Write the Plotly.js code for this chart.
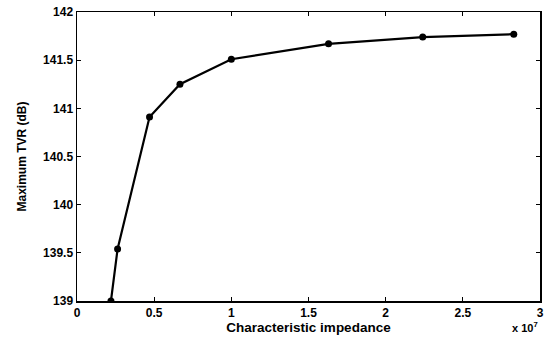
<!DOCTYPE html>
<html><head><meta charset="utf-8">
<script src="https://cdn.plot.ly/plotly-3.0.1.min.js"></script>
<style>body{margin:0;background:#fff}#c{width:547px;height:340px}</style>
</head><body><div id="c"></div>
<script>
const impedance = [0.22, 0.263, 0.47, 0.667, 1.0, 1.63, 2.24, 2.83];
const tvr = [139.0, 139.54, 140.91, 141.25, 141.51, 141.67, 141.74, 141.77];
const xTicks = [0, 0.5, 1, 1.5, 2, 2.5, 3];
const xTickText = ['0', '0.5', '1', '1.5', '2', '2.5', '3'];
const yTicks = [139, 139.5, 140, 140.5, 141, 141.5, 142];
const yTickText = ['139', '139.5', '140', '140.5', '141', '141.5', '142'];
const fnt = {family: 'Liberation Sans, Arial, sans-serif', size: 12, color: '#000', weight: 'bold'};
Plotly.newPlot('c', [{
  x: impedance, y: tvr, mode: 'lines+markers', type: 'scatter',
  line: {color: '#000', width: 2.2},
  marker: {color: '#000', size: 7}
}], {
  width: 547, height: 340,
  margin: {l: 77, r: 7, t: 12, b: 39},
  paper_bgcolor: '#fff', plot_bgcolor: '#fff',
  showlegend: false,
  font: fnt,
  xaxis: {range: [0, 3], tickvals: xTicks, ticktext: xTickText, ticks: 'inside', ticklen: 4,
    showgrid: false, zeroline: false, showline: true, mirror: 'ticks', linecolor: '#000', linewidth: 1.5,
    tickcolor: '#000', tickfont: fnt,
    title: {text: 'Characteristic impedance', font: {family: fnt.family, size: 13.5, weight: 'bold', color: '#000'}, standoff: 1}},
  yaxis: {range: [139, 142], tickvals: yTicks, ticktext: yTickText, ticks: 'inside', ticklen: 4,
    showgrid: false, zeroline: false, showline: true, mirror: 'ticks', linecolor: '#000', linewidth: 1.5,
    tickcolor: '#000', tickfont: fnt,
    title: {text: 'Maximum TVR (dB)', font: {family: fnt.family, size: 12, weight: 'bold', color: '#000'}, standoff: 14}},
  annotations: [{xref: 'paper', yref: 'paper', x: 1.0, y: 0, yshift: -17, xanchor: 'right', yanchor: 'top',
    showarrow: false, text: 'x 10<sup>7</sup>', font: {family: fnt.family, size: 11, weight: 'bold', color: '#000'}}]
}, {displayModeBar: false, staticPlot: true});
</script></body></html>
